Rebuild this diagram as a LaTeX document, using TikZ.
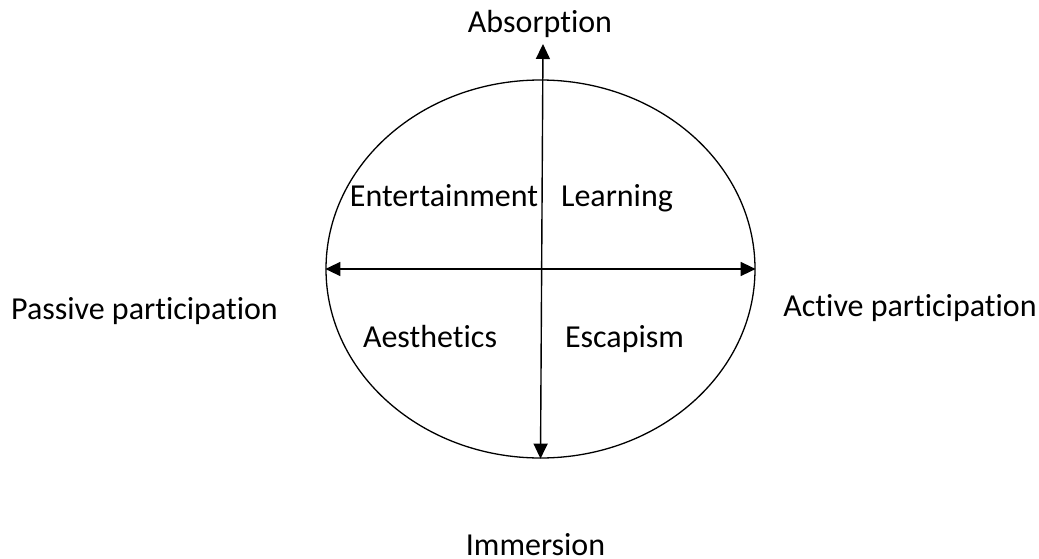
\documentclass[tikz,border=0pt]{standalone}
\usepackage{fontspec}
\setmainfont{Carlito}[Ligatures=NoCommon]
\usetikzlibrary{arrows.meta, positioning, shapes.geometric}

\begin{document}
\begin{tikzpicture}[x=1pt, y=-1pt,
                axis/.style={{Triangle[length=15pt, width=14pt]}-{Triangle[length=15pt, width=14pt]}, line width=1.4pt},
                label/.style={inner sep=0pt, anchor=base, font=\fontsize{32}{38}\selectfont}]
                \useasboundingbox (0,0) rectangle (1039,559);

                % Circle of experience
                \node[draw, ellipse, line width=1.3pt, inner sep=0pt,
                      minimum width=429pt, minimum height=378pt] (realm) at (540.5,269) {};
                \coordinate (top) at (543,44);

                % Axes
                \draw[axis] (realm.west) -- (realm.east);
                \draw[axis] (realm.south) -- (top);

                % Axis labels
                \node[label] (absorb) at (540,33) {Absorption};
                \node[label] (immerse) at (535.5,555.5) {Immersion};
                \node[label] (passive) at (144.5,319) {Passive participation};
                \node[label] (active) at (910,316) {Active participation};

                % Quadrants
                \node[label] (entertain) at (444,206) {Entertainment};
                \node[label] (learn) at (617,206) {Learning};
                \node[label] (aesthetic) at (430,347) {Aesthetics};
                \node[label] (escape) at (624.5,347) {Escapism};
\end{tikzpicture}
\end{document}
